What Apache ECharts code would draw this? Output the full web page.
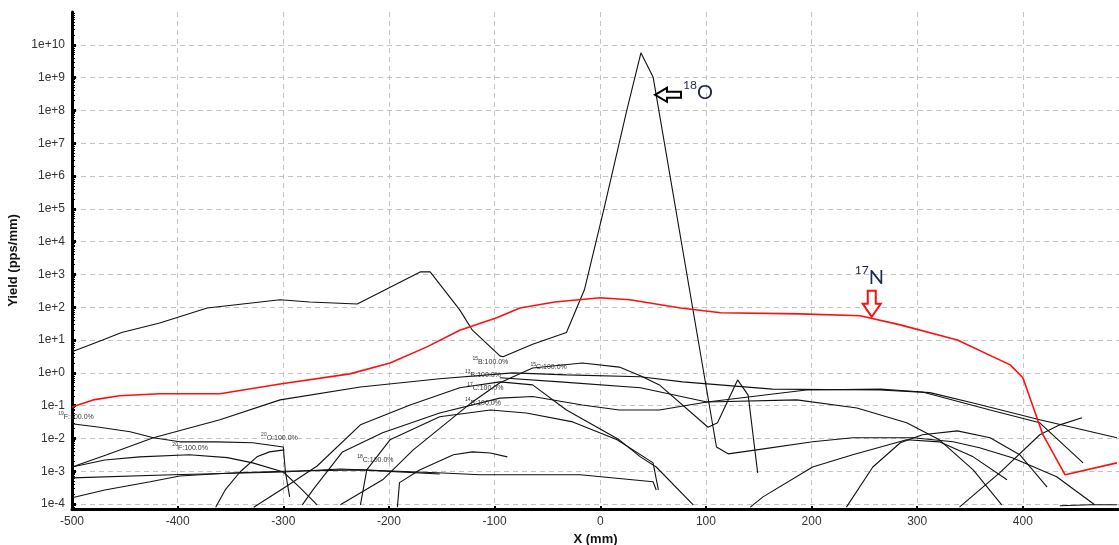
<!DOCTYPE html>
<html><head><meta charset="utf-8">
<script src="https://cdn.jsdelivr.net/npm/echarts@6/dist/echarts.min.js"></script>
<style>html,body{margin:0;padding:0;background:#fff}#c{width:1119px;height:545px}</style>
</head><body><div id="c"></div>
<script>
// ---- axis ticks ----
const xTicks = [-500,-400,-300,-200,-100,0,100,200,300,400];
const yTickExps = [-4,-3,-2,-1,0,1,2,3,4,5,6,7,8,9,10];
const xMin = -500, xMax = 491, yMinExp = -4.15, yMaxExp = 11;

// ---- curves: [X (mm), Yield (pps/mm)] ----
const c18O = [[-500,4.4],[-471,10],[-453,17],[-417,33],[-372,95],[-303,170],[-275,145],[-230,126],[-170,1200],[-161,1200],[-133,83],[-121,20],[-95,3.3],[-92,3.1],[-64,7.5],[-32,17],[-15,340],[3.5,1e5],[25,9.7e7],[38.5,5.7e9],[50,1.05e9],[110,5.5e-3],[121,3.4e-3],[148,4.5e-3],[201,7.9e-3],[239,1.05e-2],[296,1.05e-2],[334,7.9e-3],[359,5.2e-3],[390,2.6e-3],[432,6.8e-4],[468,9.5e-5]];
const c17N = [[-500,0.091],[-480,0.15],[-455,0.2],[-417,0.23],[-360,0.23],[-303,0.46],[-237,0.93],[-199,2.0],[-164,6.2],[-133,20],[-98,48],[-76,95],[-43,145],[0,195],[28,170],[76,95],[114,68],[189,63],[246,55],[284,29],[338,10],[388,1.75],[400,0.71],[419,0.013],[440,7.8e-4],[489,1.8e-3]];
const c19F = [[-500,0.028],[-474,0.022],[-445,0.016],[-423,0.0105],[-398,7.9e-3],[-363,7.9e-3],[-329,7.4e-3],[-300,5.5e-3],[-298,9.5e-4],[-294,1.66e-4]];
const c20F = [[-500,1.35e-3],[-469,2.2e-3],[-436,2.75e-3],[-389,3.2e-3],[-353,2.6e-3],[-329,1.8e-3],[-300,9.5e-4],[-284,3.1e-4],[-268,9.5e-5]];
const cFlat = [[-500,6.3e-4],[-405,7.8e-4],[-300,9.5e-4],[-246,1.17e-3],[-149,8.9e-4],[-114,7.8e-4],[-19,7.8e-4],[50,4.8e-4],[53,2.7e-4]];
const cLow = [[-500,1.55e-4],[-469,2.7e-4],[-426,4.8e-4],[-398,7.2e-4],[-350,8.9e-4],[-300,1.0e-3],[-227,1.1e-3],[-152,8.3e-4]];
const c13B = [[-500,1.35e-3],[-467,3.2e-3],[-423,0.0105],[-360,0.037],[-303,0.15],[-227,0.37],[-152,0.66],[-83,1.0],[-32,0.87],[38,0.76],[78,0.53],[163,0.32],[265,0.30],[312,0.25],[353,0.12],[416,0.037],[489,0.0105]];
const c20O = [[-364,8e-5],[-355,2.7e-4],[-341,9.5e-4],[-325,2.75e-3],[-313,3.9e-3],[-299,4.5e-3]];
const c17C = [[-328,8e-5],[-298,3.3e-4],[-268,1.45e-3],[-227,0.026],[-180,0.105],[-133,0.35],[-95,0.53],[-64,0.43],[-32,0.074],[18,9.1e-3],[38,2.75e-3],[53,1.35e-3],[88,9.5e-5]];
const c14B = [[-282,9.5e-5],[-272,2.7e-4],[-244,3.9e-3],[-206,0.015],[-152,0.06],[-95,0.17],[-64,0.19],[-17,0.105],[18,0.074],[56,0.074],[101,0.13],[195,0.30],[265,0.32],[305,0.26],[369,0.074],[416,0.030],[457,1.8e-3]];
const c15C = [[-246,9.5e-5],[-206,5.5e-4],[-177,4.5e-3],[-121,0.13],[-95,0.5],[-64,1.4],[-17,2.0],[18,1.5],[38,0.81],[56,0.43],[102,0.022],[111,0.030],[130,0.61],[140,0.21],[149,8.9e-4]];
const cDome = [[-227,9.5e-5],[-221,1.1e-3],[-199,9.1e-3],[-152,0.046],[-104,0.074],[-70,0.06],[-26,0.032],[16,9.1e-3],[50,1.8e-3],[55,2.7e-4]];
const c18C = [[-192,8.1e-5],[-190,4.5e-4],[-171,1.1e-3],[-139,3.2e-3],[-121,3.9e-3],[-104,3.6e-3],[-88,2.75e-3]];
const cRightA = [[142,8.1e-5],[154,1.66e-4],[201,1.35e-3],[239,3.2e-3],[290,9.1e-3],[321,7.9e-3],[353,2.75e-3],[385,5.5e-4]];
const cRightB = [[233,8.1e-5],[258,1.35e-3],[284,7.4e-3],[305,0.013],[338,0.017],[369,0.0105],[397,3.2e-3],[423,3.3e-4]];
const cDesc = [[-95,0.71],[-38,0.53],[38,0.35],[101,0.13],[186,0.15],[243,0.085],[290,0.030],[321,9.1e-3],[353,1.1e-3],[380,9.5e-5]];
const cRise = [[340,8.1e-5],[378,8.9e-4],[416,0.013],[435,0.026],[456,0.043]];
const cTail = [[435,8.9e-5],[464,9.5e-5],[489,9.5e-5]];

// ---- isotope labels (data position of left/middle of text) ----
const isoLabels = [
  {sup:'19', txt:'F:100.0%', x:-513, y:0.049},
  {sup:'20', txt:'F:100.0%', x:-405, y:5.5e-3},
  {sup:'20', txt:'O:100.0%', x:-321, y:0.011},
  {sup:'18', txt:'C:100.0%', x:-230, y:2.4e-3},
  {sup:'15', txt:'B:100.0%', x:-121, y:2.3},
  {sup:'13', txt:'B:100.0%', x:-128, y:0.93},
  {sup:'17', txt:'C:100.0%', x:-126, y:0.37},
  {sup:'14', txt:'B:100.0%', x:-128, y:0.13},
  {sup:'15', txt:'C:100.0%', x:-66, y:1.6}
];
const arrow18O = {x:51.8, y:3.0e8};
const arrow17N = {x:257, y:51};

const blackCurves = [c19F,c20F,cFlat,cLow,c13B,c20O,c17C,c14B,c15C,cDome,c18C,cRightA,cRightB,cDesc,cRise,cTail,c18O];

const yMinor = [];
for (let n=-5;n<=10;n++) for (let k=2;k<=9;k++){ const v=n+Math.log10(k); if (v>yMinExp && v<yMaxExp) yMinor.push(v); }

const toLog = arr => arr.map(d => [d[0], Math.log10(d[1])]);
const series = blackCurves.map((c,i) => ({
  type:'line', data: toLog(c), symbol:'none', showSymbol:false, silent:true, animation:false,
  lineStyle:{color:'#111', width:1.1}, z:2
}));
series.push({type:'line', data: toLog(c17N), symbol:'none', showSymbol:false, silent:true, animation:false,
  lineStyle:{color:'#ff1010', width:1.6}, z:3});

const chart = echarts.init(document.getElementById('c'));
const fmt = v => (v>=0 ? '1e+'+v : '1e'+v);
chart.setOption({
  animation:false,
  backgroundColor:'#fff',
  grid:{left:72, right:0, top:12, bottom:36, outerBoundsMode:'none', containLabel:false},
  xAxis:{type:'value', min:xMin, max:xMax,
    name:'X (mm)', nameLocation:'middle', nameGap:22,
    nameTextStyle:{fontFamily:'Liberation Sans', fontWeight:'bold', fontSize:13, color:'#111'},
    axisLine:{show:true, onZero:false, lineStyle:{color:'#000', width:3}},
    axisTick:{show:true, inside:true, length:3, customValues:xTicks, lineStyle:{color:'#000', width:2}},
    axisLabel:{customValues:xTicks, fontFamily:'Liberation Sans', fontSize:12, color:'#333', margin:7},
    splitLine:{show:true, lineStyle:{color:'#c4c4c4', type:[5,4], width:1}}
  },
  yAxis:[{type:'value', min:yMinExp, max:yMaxExp,
    name:'Yield (pps/mm)', nameLocation:'middle', nameGap:46,
    nameTextStyle:{fontFamily:'Liberation Sans', fontWeight:'bold', fontSize:13, color:'#111'},
    axisLine:{show:true, onZero:false, lineStyle:{color:'#000', width:3}},
    axisTick:{show:true, inside:true, length:4, customValues:yTickExps, lineStyle:{color:'#000', width:3}},
    axisLabel:{customValues:yTickExps, formatter:fmt, fontFamily:'Liberation Sans', fontSize:12, color:'#333', margin:7},
    splitLine:{show:true, lineStyle:{color:'#c4c4c4', type:[5,4], width:1}}
  },{type:'value', min:yMinExp, max:yMaxExp, position:'left', offset:0,
    axisLine:{show:false, onZero:false}, axisLabel:{show:false}, splitLine:{show:false},
    axisTick:{show:true, inside:true, length:3, customValues:yMinor, lineStyle:{color:'#000', width:1}}
  }],
  series: series
});

function px(x, y){ return chart.convertToPixel({xAxisIndex:0, yAxisIndex:0}, [x, Math.log10(y)]); }
const graphics = [];
isoLabels.forEach(l => {
  const p = px(l.x, l.y);
  graphics.push({type:'text', x:p[0], y:p[1], z:10, silent:true,
    style:{text:'{s|'+l.sup+'}{m|'+l.txt+'}', align:'left', verticalAlign:'middle',
      rich:{s:{fontSize:5, fontFamily:'Liberation Sans', fill:'#333', verticalAlign:'top'},
            m:{fontSize:7, fontFamily:'Liberation Sans', fill:'#333', verticalAlign:'bottom', lineHeight:9}}}});
});
const a = px(arrow18O.x, arrow18O.y);
graphics.push({type:'polygon', x:a[0], y:a[1], z:10, silent:true,
  shape:{points:[[0,0],[12,-7],[12,-3],[26,-3],[26,3],[12,3],[12,7]]},
  style:{fill:'#fff', stroke:'#000', lineWidth:2}});
graphics.push({type:'text', x:a[0]+28, y:a[1]-4, z:10, silent:true,
  style:{text:'{s|18}{m|O}', align:'left', verticalAlign:'middle',
    rich:{s:{fontSize:12, fontFamily:'Lato', fill:'#1e2b45', verticalAlign:'top'},
          m:{fontSize:20, fontFamily:'Lato', fill:'#1e2b45', verticalAlign:'bottom', lineHeight:24}}}});
const b = px(arrow17N.x, arrow17N.y);
graphics.push({type:'polygon', x:b[0], y:b[1], z:10, silent:true,
  shape:{points:[[0,0],[-9,-13],[-4,-13],[-4,-26],[4,-26],[4,-13],[9,-13]]},
  style:{fill:'#fff', stroke:'#ff1010', lineWidth:2}});
graphics.push({type:'text', x:b[0]-17, y:b[1]-41, z:10, silent:true,
  style:{text:'{s|17}{m|N}', align:'left', verticalAlign:'middle',
    rich:{s:{fontSize:12, fontFamily:'Lato', fill:'#1e2b45', verticalAlign:'top'},
          m:{fontSize:20, fontFamily:'Lato', fill:'#1e2b45', verticalAlign:'bottom', lineHeight:24}}}});
chart.setOption({graphic: graphics});
</script>
</body></html>
